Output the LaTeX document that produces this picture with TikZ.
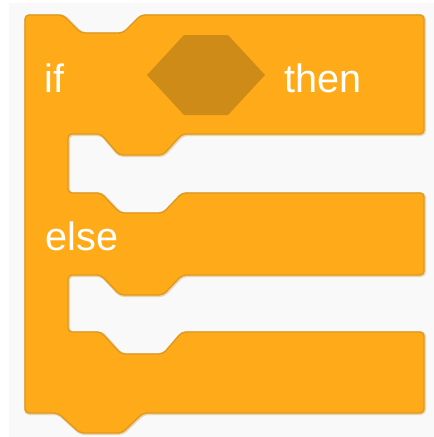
\documentclass[tikz,border=0pt]{standalone}
\usepackage{fontspec}
\setmainfont{Liberation Sans}
\definecolor{ctrl}{HTML}{FFAB19}
\definecolor{ctrldark}{HTML}{CF8B17}
\definecolor{ctrledge}{HTML}{DE9A20}
\definecolor{halo}{HTML}{EBD5B0}
\definecolor{bg}{HTML}{F9F9F9}
\begin{document}
\begin{tikzpicture}[x=1pt,y=-1pt,
  lbl/.style={text=white,inner sep=0pt,anchor=base west,font=\fontsize{39.6}{40}\selectfont},
  blockshape/.style={fill=ctrl,draw=ctrledge,line width=1.4pt,rounded corners=4pt,line join=round}]
\useasboundingbox (0,0) rectangle (434,437);
\fill[white] (0,0) rectangle (434,437);
\fill[bg] (9,3) rectangle (434,437);
% halo
\draw[halo,line width=3pt,rounded corners=4pt,line join=round,xshift=0.6pt,yshift=-0.6pt]
  (25,15) -- (63,15) -- (81,33) -- (123,33) -- (141,15) -- (424,15) -- (424,134)
  -- (182,134) -- (163,155) -- (119,155) -- (101,134) -- (68,134) -- (68,193)
  -- (101,193) -- (120,213) -- (163,213) -- (182,193) -- (424,193) -- (424,275)
  -- (182,275) -- (163,295) -- (120,295) -- (101,275) -- (68,275) -- (68,332)
  -- (101,332) -- (121,354) -- (163,354) -- (182,332) -- (424,332) -- (424,413)
  -- (143,413) -- (122,433) -- (80,433) -- (58,413) -- (25,413) -- cycle;
\draw[blockshape]
  (25,15) -- (63,15) -- (81,33) -- (123,33) -- (141,15) -- (424,15) -- (424,134)
  -- (182,134) -- (163,155) -- (119,155) -- (101,134) -- (68,134) -- (68,193)
  -- (101,193) -- (120,213) -- (163,213) -- (182,193) -- (424,193) -- (424,275)
  -- (182,275) -- (163,295) -- (120,295) -- (101,275) -- (68,275) -- (68,332)
  -- (101,332) -- (121,354) -- (163,354) -- (182,332) -- (424,332) -- (424,413)
  -- (143,413) -- (122,433) -- (80,433) -- (58,413) -- (25,413) -- cycle;
% boolean slot
\fill[ctrldark] (147,75) -- (184,35) -- (228,35) -- (265,75) -- (228,115) -- (184,115) -- cycle;
\node[lbl] (iftxt) at (44.5,92) {if};
\node[lbl] (thentxt) at (284.5,92) {then};
\node[lbl] (elsetxt) at (45.5,250) {else};
\end{tikzpicture}
\end{document}
